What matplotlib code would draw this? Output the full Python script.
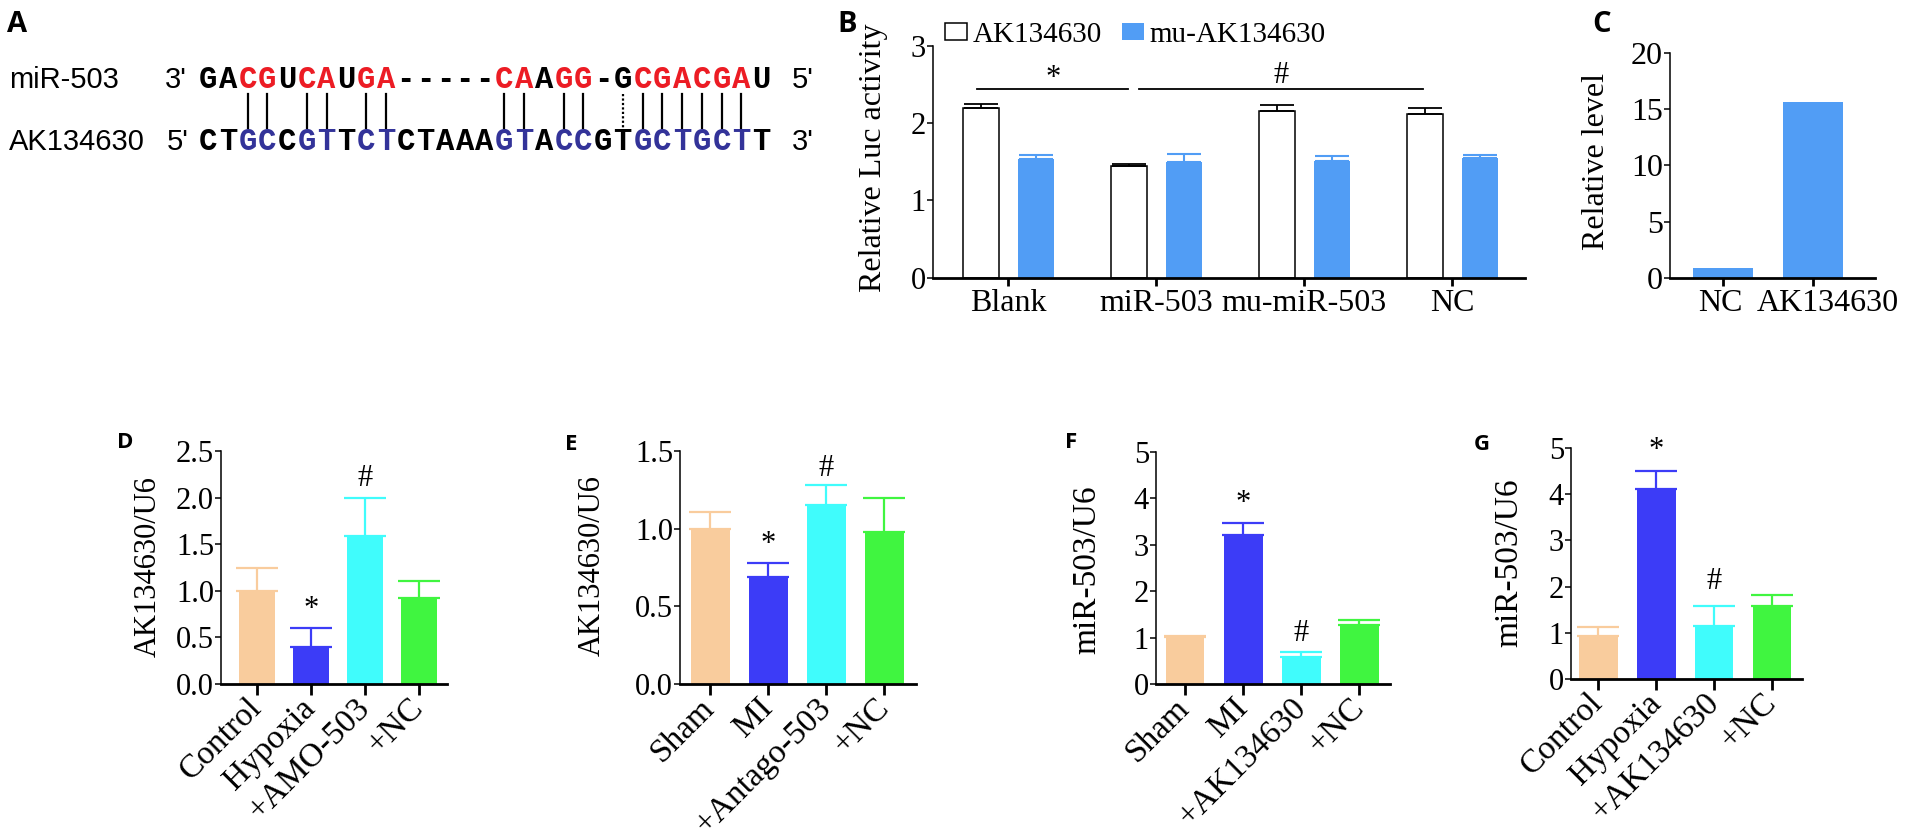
import matplotlib
matplotlib.use("Agg")
import matplotlib.pyplot as plt
from matplotlib.ticker import FormatStrFormatter
from matplotlib.transforms import ScaledTranslation
import numpy as np

plt.rcParams['font.family'] = ['Liberation Serif', 'DejaVu Serif']

# ---- data ----
mir_seq = "GACGUCAUGA-----CAAGG-GCGACGAU"
ak_seq = "CTGCCGTTCTCTAAAGTACCGTGCTGCTT"
paired = [2, 3, 5, 6, 8, 9, 15, 16, 18, 19, 22, 23, 24, 25, 26, 27]
wobble = [21]

b_groups = ["Blank", "miR-503", "mu-miR-503", "NC"]
b_wt = [2.20, 1.445, 2.15, 2.12]
b_wt_err = [0.05, 0.02, 0.08, 0.07]
b_mu = [1.535, 1.50, 1.51, 1.55]
b_mu_err = [0.055, 0.10, 0.06, 0.04]

c_groups = ["NC", "AK134630"]
c_vals = [0.9, 15.6]

d_groups = ["Control", "Hypoxia", "+AMO-503", "+NC"]
d_vals = [1.0, 0.40, 1.59, 0.92]
d_err = [0.24, 0.20, 0.41, 0.18]

e_groups = ["Sham", "MI", "+Antago-503", "+NC"]
e_vals = [1.0, 0.69, 1.15, 0.98]
e_err = [0.11, 0.09, 0.13, 0.22]

f_groups = ["Sham", "MI", "+AK134630", "+NC"]
f_vals = [1.01, 3.22, 0.58, 1.275]
f_err = [0.03, 0.25, 0.10, 0.10]

g_groups = ["Control", "Hypoxia", "+AK134630", "+NC"]
g_vals = [0.92, 4.11, 1.15, 1.59]
g_err = [0.20, 0.39, 0.44, 0.23]

# significance marks: (bar index, height, symbol)
d_marks = [(1, 0.80, "*"), (2, 2.20, "#")]
e_marks = [(1, 0.90, "*"), (2, 1.39, "#")]
f_marks = [(1, 3.90, "*"), (2, 1.08, "#")]
g_marks = [(1, 4.95, "*"), (2, 2.10, "#")]

bar_colors = ['#f9cc9d', '#3c3cf7', '#40fcfc', '#40f540']
light_blue = '#519df5'

W, H = 1914, 838
fig = plt.figure(figsize=(W / 100, H / 100), dpi=100)


def box(left, right, top, bottom):
    return [left / W, 1 - bottom / H, (right - left) / W, (bottom - top) / H]


# overlay in pixel coordinates for free text (panel A, letters, y labels)
ov = fig.add_axes([0, 0, 1, 1], zorder=-1)
ov.set_xlim(0, W)
ov.set_ylim(H, 0)
ov.axis('off')

sans = ['Liberation Sans', 'DejaVu Sans']
mono = ['Liberation Mono', 'DejaVu Sans Mono']
letter_font = ['Open Sans', 'DejaVu Sans']

# ---- panel A ----
red = '#ec1c24'
navy = '#333399'
top_y, bot_y = 88, 150
ov.text(9, top_y, "miR-503", fontfamily=sans, fontsize=21, va='baseline')
ov.text(9, bot_y, "AK134630", fontfamily=sans, fontsize=21, va='baseline')
ov.text(165, top_y, "3'", fontfamily=sans, fontsize=21, va='baseline')
ov.text(167, bot_y, "5'", fontfamily=sans, fontsize=21, va='baseline')
ov.text(792, top_y, "5'", fontfamily=sans, fontsize=21, va='baseline')
ov.text(792, bot_y, "3'", fontfamily=sans, fontsize=21, va='baseline')
step = 19.75
for i, (a, b) in enumerate(zip(mir_seq, ak_seq)):
    cx = 208 + step * i
    ov.text(cx, top_y, a, fontfamily=mono, fontsize=22, weight='bold', ha='center',
            va='baseline', color=red if i in paired else 'black')
    ov.text(cx, bot_y, b, fontfamily=mono, fontsize=22, weight='bold', ha='center',
            va='baseline', color=navy if i in paired else 'black')
    if i in paired:
        ov.plot([cx, cx], [94, 128], color='black', lw=1.6)
    elif i in wobble:
        ov.plot([cx, cx], [94, 128], color='black', lw=1.6, ls=(0, (1, 1)))

# ---- panel letters ----
for lab, x, y, s in [("A", 7, 32, 21), ("B", 837, 32, 21), ("C", 1592, 32, 21),
                     ("D", 117, 448, 16), ("E", 565, 450, 16),
                     ("F", 1065, 448, 16), ("G", 1474, 450, 16)]:
    ov.text(x, y, lab, fontfamily=letter_font, fontsize=s, weight='bold', va='baseline')


def style_axes(ax, xls, yls):
    ax.spines[['top', 'right']].set_visible(False)
    ax.spines['left'].set_linewidth(1.1)
    ax.spines['bottom'].set_linewidth(2)
    ax.tick_params(axis='y', length=4, width=1.1, pad=1, labelsize=yls)
    ax.tick_params(axis='x', length=8, width=2, pad=2, labelsize=xls)


# ---- panel B ----
axb = fig.add_axes(box(933, 1525, 45.7, 277.7))
xb = np.arange(len(b_groups))
h1 = axb.bar(xb - 0.186, b_wt, width=0.245, color='white', edgecolor='black', lw=1.1,
             label='AK134630')
h2 = axb.bar(xb + 0.186, b_mu, width=0.245, color=light_blue, label='mu-AK134630')
axb.errorbar(xb - 0.186, b_wt, yerr=[np.zeros(4), b_wt_err], fmt='none', ecolor='black',
             capsize=12, elinewidth=1.3, capthick=1.3)
axb.errorbar(xb + 0.186, b_mu, yerr=[np.zeros(4), b_mu_err], fmt='none', ecolor=light_blue,
             capsize=12, elinewidth=1.5, capthick=1.5)
axb.set_xlim(-0.51, 3.49)
axb.set_ylim(0, 3)
axb.set_yticks([0, 1, 2, 3])
axb.set_xticks(xb)
axb.set_xticklabels(b_groups)
style_axes(axb, 23, 22)
axb.tick_params(axis='x', length=6)
axb.plot([-0.21, 0.81], [2.44, 2.44], color='black', lw=1.3, clip_on=False)
axb.plot([0.88, 2.80], [2.44, 2.44], color='black', lw=1.3, clip_on=False)
axb.text(0.30, 2.58, "*", ha='center', va='center', fontsize=22)
axb.text(1.84, 2.62, "#", ha='center', va='center', fontsize=22)
axb.legend(handles=[h1, h2], ncol=2, frameon=False, fontsize=21, loc='center left',
           bbox_to_anchor=(0.02, 1.046), borderpad=0, borderaxespad=0,
           handlelength=0.75, handleheight=0.55, handletextpad=0.2, columnspacing=0.7)
ov.text(873, 158, "Relative Luc activity", fontsize=23, rotation=90, ha='center', va='center')

# ---- panel C ----
axc = fig.add_axes(box(1670, 1875, 53, 278))
xc = np.arange(len(c_groups))
axc.bar(xc, c_vals, width=0.667, color=light_blue)
axc.set_xlim(-0.59, 1.69)
axc.set_ylim(0, 20)
axc.set_yticks([0, 5, 10, 15, 20])
axc.set_xticks(xc)
axc.set_xticklabels(c_groups)
style_axes(axc, 23, 23)
axc.tick_params(axis='x', length=6)
# labels in the source sit a little apart from their ticks
for lbl, dx in zip(axc.get_xticklabels(), [-3, 15]):
    lbl.set_transform(lbl.get_transform() + ScaledTranslation(dx / 100, 0, fig.dpi_scale_trans))
ov.text(1597, 162, "Relative level", fontsize=23, rotation=90, ha='center', va='center')


# ---- panels D-G ----
def bar_panel(rect, groups, vals, errs, marks, xlim, ylim, yticks, fmt, ylabel, ylab_xy, ylab_size):
    ax = fig.add_axes(rect)
    x = np.arange(len(groups))
    ax.bar(x, vals, width=0.67, color=bar_colors, zorder=2)
    for xi, v, e, c in zip(x, vals, errs, bar_colors):
        ax.errorbar(xi, v, yerr=[[0], [e]], fmt='none', ecolor=c, capsize=15,
                    elinewidth=1.6, capthick=1.6, zorder=1)
    ax.set_xlim(*xlim)
    ax.set_ylim(*ylim)
    ax.set_yticks(yticks)
    ax.yaxis.set_major_formatter(FormatStrFormatter(fmt))
    ax.set_xticks(x)
    ax.set_xticklabels(groups, rotation=45, ha='right', va='center', rotation_mode='anchor')
    style_axes(ax, 24, 22)
    ax.tick_params(axis='x', pad=6)
    for i, y, s in marks:
        ax.text(i, y, s, ha='center', va='center', fontsize=22, clip_on=False)
    ov.text(ylab_xy[0], ylab_xy[1], ylabel, fontsize=ylab_size, rotation=90,
            ha='center', va='center')
    return ax


bar_panel(box(221, 447, 451, 684), d_groups, d_vals, d_err, d_marks, (-0.66, 3.52),
          (0, 2.5), [0, 0.5, 1.0, 1.5, 2.0, 2.5], '%.1f', "AK134630/U6", (148, 567), 22)
bar_panel(box(680, 916, 451, 684), e_groups, e_vals, e_err, e_marks, (-0.52, 3.55),
          (0, 1.5), [0, 0.5, 1.0, 1.5], '%.1f', "AK134630/U6", (592, 566), 22)
bar_panel(box(1156, 1390, 452, 684), f_groups, f_vals, f_err, f_marks, (-0.5, 3.53),
          (0, 5), [0, 1, 2, 3, 4, 5], '%d', "miR-503/U6", (1087, 570), 24)
bar_panel(box(1571, 1802, 448, 679), g_groups, g_vals, g_err, g_marks, (-0.47, 3.52),
          (0, 5), [0, 1, 2, 3, 4, 5], '%d', "miR-503/U6", (1509, 563), 24)

fig.savefig("out.png", dpi=100, facecolor='white')
